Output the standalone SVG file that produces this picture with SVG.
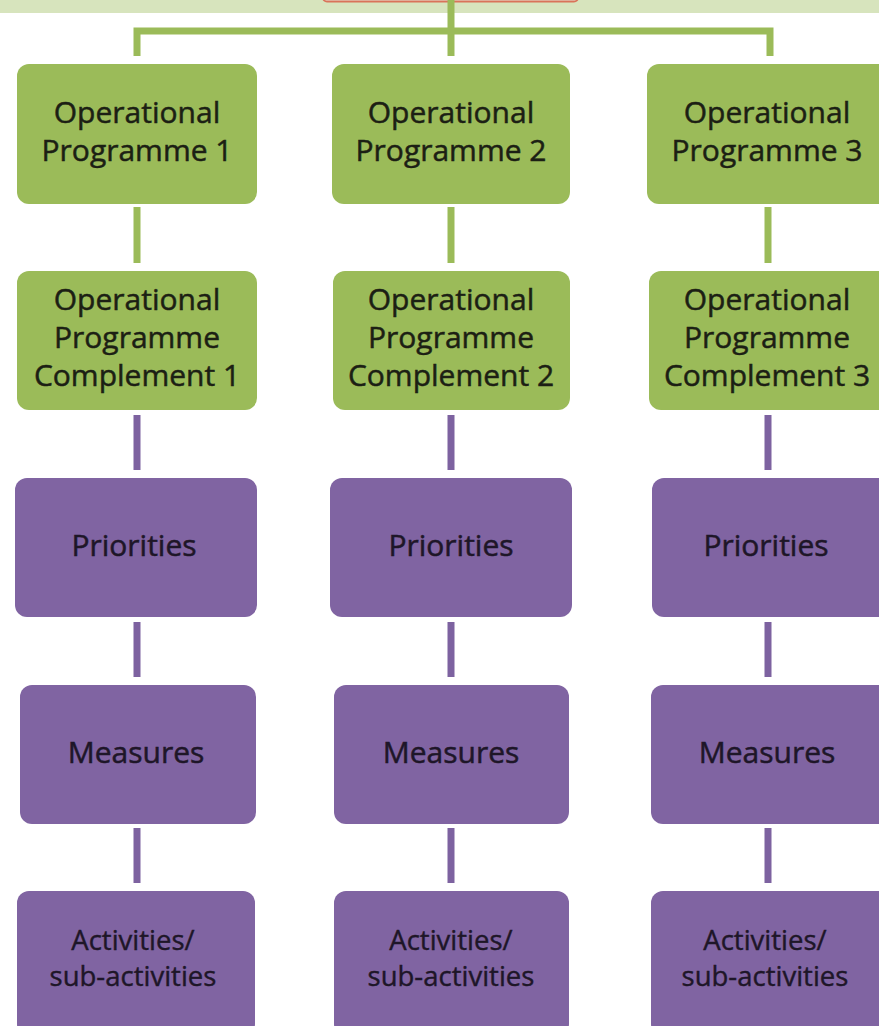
<svg xmlns="http://www.w3.org/2000/svg" width="879" height="1026" viewBox="0 0 879 1026">
<style>
.g{fill:#9bbb59}
.p{fill:#8064a2}
.t{font-family:"Open Sans","Liberation Sans",sans-serif;font-size:30px;text-anchor:middle;fill:#1c1f14;stroke:#1c1f14;stroke-width:0.5}
.tp{font-family:"Open Sans","Liberation Sans",sans-serif;font-size:30px;text-anchor:middle;fill:#1e1628;stroke:#1e1628;stroke-width:0.5}
.ts{font-family:"Open Sans","Liberation Sans",sans-serif;font-size:27.5px;text-anchor:middle;fill:#1e1628;stroke:#1e1628;stroke-width:0.4}
.cg{stroke:#9bbb59;stroke-width:7;fill:none}
.cp{stroke:#7d62a0;stroke-width:7;fill:none}
</style>
<rect x="0" y="0" width="879" height="1026" fill="#ffffff"/>
<rect x="0" y="0" width="879" height="13" fill="#d7e4bd"/>
<rect x="323" y="-30" width="255" height="31.5" rx="4" fill="#e6ead8" stroke="#d9735a" stroke-width="2"/>
<g id="connectors">
<path class="cg" d="M451 0V56"/>
<path class="cg" d="M137 56V31H770V56" stroke-width="5"/>
<path class="cg" d="M137 207V263M451 207V263M768 207V263"/>
<path class="cp" d="M137 415V470M451 415V470M768 415V470"/>
<path class="cp" d="M137 622V677M451 622V677M768 622V677"/>
<path class="cp" d="M137 828V883M451 828V883M768 828V883"/>
</g>
<g id="op1"><rect class="g" x="17" y="64" width="240" height="140" rx="12"/><text class="t" x="137" y="123">Operational</text><text class="t" x="137" y="161">Programme 1</text></g>
<g id="op2"><rect class="g" x="332" y="64" width="238" height="140" rx="12"/><text class="t" x="451" y="123">Operational</text><text class="t" x="451" y="161">Programme 2</text></g>
<g id="op3"><rect class="g" x="647" y="64" width="245" height="140" rx="12"/><text class="t" x="767" y="123">Operational</text><text class="t" x="767" y="161">Programme 3</text></g>
<g id="opc1"><rect class="g" x="17" y="271" width="240" height="139" rx="12"/><text class="t" x="137" y="310">Operational</text><text class="t" x="137" y="348">Programme</text><text class="t" x="137" y="386">Complement 1</text></g>
<g id="opc2"><rect class="g" x="333" y="271" width="237" height="139" rx="12"/><text class="t" x="451" y="310">Operational</text><text class="t" x="451" y="348">Programme</text><text class="t" x="451" y="386">Complement 2</text></g>
<g id="opc3"><rect class="g" x="649" y="271" width="245" height="139" rx="12"/><text class="t" x="767" y="310">Operational</text><text class="t" x="767" y="348">Programme</text><text class="t" x="767" y="386">Complement 3</text></g>
<g id="pr1"><rect class="p" x="15" y="478" width="242" height="139" rx="12"/><text class="tp" x="134" y="556">Priorities</text></g>
<g id="pr2"><rect class="p" x="330" y="478" width="242" height="139" rx="12"/><text class="tp" x="451" y="556">Priorities</text></g>
<g id="pr3"><rect class="p" x="652" y="478" width="242" height="139" rx="12"/><text class="tp" x="766" y="556">Priorities</text></g>
<g id="me1"><rect class="p" x="20" y="685" width="236" height="139" rx="12"/><text class="tp" x="136" y="763">Measures</text></g>
<g id="me2"><rect class="p" x="334" y="685" width="235" height="139" rx="12"/><text class="tp" x="451" y="763">Measures</text></g>
<g id="me3"><rect class="p" x="651" y="685" width="240" height="139" rx="12"/><text class="tp" x="767" y="763">Measures</text></g>
<g id="ac1"><rect class="p" x="17" y="891" width="238" height="145" rx="12"/><text class="ts" x="133" y="950">Activities/</text><text class="ts" x="133" y="986">sub-activities</text></g>
<g id="ac2"><rect class="p" x="334" y="891" width="235" height="145" rx="12"/><text class="ts" x="451" y="950">Activities/</text><text class="ts" x="451" y="986">sub-activities</text></g>
<g id="ac3"><rect class="p" x="651" y="891" width="240" height="145" rx="12"/><text class="ts" x="765" y="950">Activities/</text><text class="ts" x="765" y="986">sub-activities</text></g>
</svg>
